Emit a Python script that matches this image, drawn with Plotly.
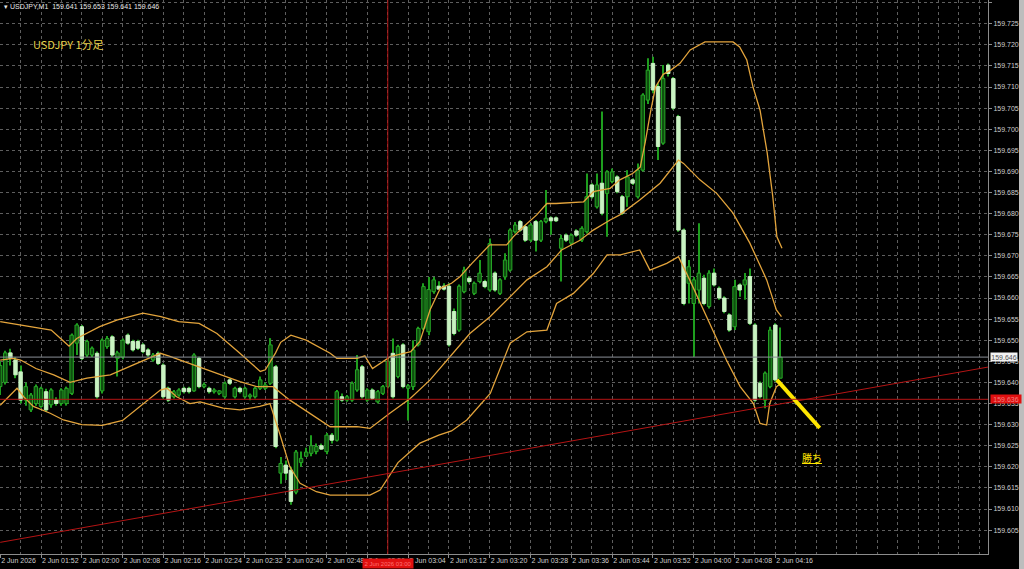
import pandas as pd
import plotly.graph_objects as go

# ---------------- data ----------------
start = pd.Timestamp("2026-06-02 01:44")
n_bars = 154
bar_times = [start + pd.Timedelta(minutes=i) for i in range(n_bars)]

opens = [159.6390,159.6400,159.6470,159.6453,159.6425,159.6358,159.6335,159.6350,159.6343,159.6378,
159.6347,159.6358,159.6350,159.6350,159.6374,159.6493,159.6532,159.6465,159.6465,159.6469,
159.6380,159.6485,159.6508,159.6457,159.6460,159.6512,159.6497,159.6497,159.6489,159.6477,
159.6453,159.6469,159.6441,159.6386,159.6366,159.6370,159.6386,159.6386,159.6380,159.6457,
159.6390,159.6386,159.6378,159.6374,159.6366,159.6406,159.6366,159.6386,159.6366,159.6366,
159.6366,159.6386,159.6386,159.6398,159.6437,159.6185,159.6204,159.6192,159.6140,159.6210,
159.6225,159.6232,159.6236,159.6250,159.6236,159.6275,159.6263,159.6366,159.6358,159.6358,
159.6382,159.6437,159.6358,159.6382,159.6354,159.6374,159.6390,159.6469,159.6414,159.6489,
159.6386,159.6390,159.6489,159.6528,159.6520,159.6615,159.6628,159.6628,159.6628,159.6568,
159.6524,159.6615,159.6647,159.6611,159.6639,159.6639,159.6619,159.6659,159.6611,159.6650,
159.6666,159.6757,159.6781,159.6769,159.6737,159.6781,159.6737,159.6781,159.6790,159.6790,
159.6718,159.6749,159.6730,159.6759,159.6737,159.6757,159.6868,159.6816,159.6872,159.6848,
159.6876,159.6887,159.6840,159.6840,159.6880,159.6840,159.6903,159.7069,159.7156,159.7101,
159.6967,159.7152,159.7120,159.7030,159.6761,159.6635,159.6587,159.6619,159.6647,159.6580,
159.6659,159.6623,159.6600,159.6560,159.6532,159.6631,159.6631,159.6651,159.6536,159.6398,
159.6358,159.6390,159.6536,159.6410]

highs = [159.6450,159.6475,159.6480,159.6460,159.6440,159.6400,159.6375,159.6395,159.6390,159.6385,
159.6386,159.6365,159.6386,159.6390,159.6516,159.6540,159.6536,159.6501,159.6485,159.6473,
159.6504,159.6510,159.6512,159.6475,159.6504,159.6516,159.6501,159.6501,159.6493,159.6481,
159.6470,159.6473,159.6445,159.6390,159.6382,159.6386,159.6390,159.6390,159.6469,159.6461,
159.6400,159.6390,159.6386,159.6382,159.6402,159.6410,159.6390,159.6390,159.6390,159.6374,
159.6390,159.6414,159.6400,159.6505,159.6441,159.6223,159.6215,159.6200,159.6240,159.6236,
159.6245,159.6275,159.6255,159.6255,159.6280,159.6280,159.6382,159.6374,159.6370,159.6402,
159.6465,159.6441,159.6386,159.6386,159.6382,159.6394,159.6460,159.6504,159.6489,159.6493,
159.6396,159.6500,159.6532,159.6635,159.6650,159.6650,159.6640,159.6635,159.6635,159.6575,
159.6632,159.6674,159.6651,159.6639,159.6690,159.6643,159.6741,159.6663,159.6647,159.6706,
159.6765,159.6780,159.6785,159.6773,159.6777,159.6785,159.6785,159.6856,159.6793,159.6793,
159.6750,159.6753,159.6753,159.6763,159.6770,159.6895,159.6872,159.6895,159.7042,159.6903,
159.6907,159.6891,159.6844,159.6903,159.6884,159.6919,159.7085,159.7168,159.7172,159.7109,
159.7152,159.7156,159.7124,159.7034,159.6765,159.6690,159.6650,159.6777,159.6655,159.6666,
159.6670,159.6627,159.6604,159.6564,159.6643,159.6635,159.6659,159.6670,159.6540,159.6402,
159.6426,159.6532,159.6540,159.6530]

lows = [159.6370,159.6395,159.6440,159.6410,159.6350,159.6345,159.6330,159.6345,159.6340,159.6330,
159.6340,159.6345,159.6345,159.6345,159.6370,159.6465,159.6453,159.6460,159.6460,159.6362,
159.6374,159.6480,159.6460,159.6414,159.6455,159.6489,159.6473,159.6477,159.6469,159.6461,
159.6449,159.6441,159.6362,159.6354,159.6362,159.6366,159.6374,159.6374,159.6378,159.6386,
159.6386,159.6374,159.6374,159.6370,159.6362,159.6394,159.6362,159.6374,159.6362,159.6358,
159.6362,159.6382,159.6382,159.6394,159.6244,159.6160,159.6169,159.6110,159.6135,159.6200,
159.6224,159.6225,159.6230,159.6240,159.6230,159.6255,159.6260,159.6354,159.6354,159.6354,
159.6378,159.6362,159.6354,159.6358,159.6350,159.6370,159.6386,159.6362,159.6410,159.6386,
159.6310,159.6382,159.6485,159.6524,159.6512,159.6610,159.6620,159.6618,159.6485,159.6512,
159.6520,159.6611,159.6635,159.6607,159.6635,159.6623,159.6615,159.6615,159.6607,159.6643,
159.6662,159.6753,159.6757,159.6733,159.6733,159.6710,159.6733,159.6777,159.6750,159.6780,
159.6639,159.6733,159.6725,159.6745,159.6733,159.6753,159.6836,159.6812,159.6796,159.6745,
159.6872,159.6848,159.6797,159.6816,159.6868,159.6836,159.6900,159.7060,159.7085,159.6927,
159.6963,159.7125,159.7046,159.6757,159.6583,159.6587,159.6461,159.6587,159.6583,159.6575,
159.6627,159.6596,159.6564,159.6520,159.6524,159.6603,159.6596,159.6536,159.6354,159.6362,
159.6339,159.6386,159.6402,159.6410]

closes = [159.6440,159.6470,159.6457,159.6418,159.6358,159.6390,159.6370,159.6390,159.6386,159.6335,
159.6382,159.6350,159.6382,159.6386,159.6512,159.6536,159.6457,159.6497,159.6481,159.6366,
159.6500,159.6504,159.6465,159.6470,159.6500,159.6493,159.6477,159.6481,159.6473,159.6465,
159.6465,159.6445,159.6366,159.6358,159.6378,159.6382,159.6378,159.6378,159.6465,159.6390,
159.6395,159.6378,159.6382,159.6380,159.6398,159.6398,159.6386,159.6378,159.6386,159.6370,
159.6386,159.6406,159.6394,159.6489,159.6248,159.6208,159.6185,159.6118,159.6235,159.6220,
159.6235,159.6250,159.6248,159.6242,159.6275,159.6263,159.6378,159.6358,159.6366,159.6398,
159.6430,159.6366,159.6382,159.6362,159.6378,159.6390,159.6450,159.6366,159.6485,159.6390,
159.6392,159.6477,159.6528,159.6627,159.6620,159.6643,159.6621,159.6621,159.6489,159.6516,
159.6628,159.6666,159.6639,159.6635,159.6659,159.6627,159.6729,159.6619,159.6643,159.6690,
159.6761,159.6773,159.6761,159.6737,159.6773,159.6737,159.6781,159.6789,159.6783,159.6783,
159.6741,159.6737,159.6749,159.6749,159.6765,159.6840,159.6840,159.6868,159.6801,159.6899,
159.6899,159.6852,159.6801,159.6887,159.6872,159.6903,159.7081,159.7140,159.7093,159.6959,
159.7120,159.7132,159.7050,159.6761,159.6587,159.6674,159.6643,159.6659,159.6587,159.6659,
159.6631,159.6600,159.6568,159.6524,159.6627,159.6619,159.6643,159.6540,159.6358,159.6366,
159.6422,159.6524,159.6406,159.6460]

# Bollinger band lines (minute offset from 01:44, price)
upper_min = [0,6,10,12.5,13.5,15,19.5,23,28,31.5,35,39,42.5,47,51,52,54,55,57,60,
             64.7,66,70,71.5,73,76.5,80.5,82.3,84.3,86.3,88.5,90.2,92.5,96,99.3,100.6,102.6,105.2,107.2,109,
             114.4,116.3,119.6,121.5,124,125.5,126.5,127.5,128.5,130,131.5,133.3,135.3,138.2,143.7,145,146.4,147.6,149,150.4,
             151.5,152.3,153.3]
upper_band = [159.6544,159.6532,159.6524,159.6497,159.6486,159.6504,159.6532,159.6548,159.6564,159.6556,
              159.6544,159.6540,159.6516,159.6469,159.6426,159.6430,159.6470,159.6495,159.6512,159.6500,
              159.6469,159.6457,159.6457,159.6463,159.6433,159.6461,159.6473,159.6497,159.6572,159.6623,
              159.6635,159.6651,159.6682,159.6726,159.6726,159.6745,159.6769,159.6797,159.6824,159.6824,
              159.6828,159.6852,159.6860,159.6880,159.6895,159.6910,159.6970,159.7040,159.7100,159.7130,
              159.7140,159.7156,159.7188,159.7207,159.7207,159.7195,159.7164,159.7101,159.7045,159.6944,
              159.6840,159.6745,159.6718]

middle_min = [0,2.6,4,7,10.5,13.7,17,21.6,26,31.4,33,37.2,41,47,50.3,53.5,56.8,60.7,64.7,70,
              72.5,76.4,80.4,84.3,88.2,92.1,96.1,100.6,103.3,107.2,110.1,113.7,116.3,119.6,121.5,125.4,129.4,133,134,137.2,
              140.5,143.7,147,150.3,152.2,153.2]
middle_band = [159.6453,159.6457,159.6453,159.6433,159.6418,159.6400,159.6410,159.6418,159.6441,159.6469,
               159.6463,159.6445,159.6429,159.6402,159.6390,159.6390,159.6358,159.6327,159.6295,159.6295,
               159.6291,159.6327,159.6362,159.6406,159.6461,159.6516,159.6556,159.6611,159.6643,159.6674,
               159.6714,159.6737,159.6761,159.6785,159.6797,159.6832,159.6872,159.6927,159.6919,159.6880,
               159.6848,159.6801,159.6730,159.6643,159.6572,159.6556]

lower_min = [0,3.3,4.6,6.5,9.8,12.4,16,20,24,28,31.4,32.7,34.6,37.2,39.2,43.7,47,50.9,52.9,54.8,
             56.8,58.8,62,64.7,72.5,74.5,76.4,78,82.3,86,88.5,91.5,96.1,100,103.3,107.2,109.1,112.4,116.3,119,
             121.6,122.8,125.4,127.4,130.7,133,135.2,138.5,142.4,145.1,147.7,149,150.3,150.9,152.2,153.2]
lower_band = [159.6346,159.6386,159.6366,159.6343,159.6327,159.6311,159.6300,159.6298,159.6310,159.6350,
              159.6382,159.6386,159.6366,159.6350,159.6354,159.6339,159.6335,159.6343,159.6350,159.6279,
              159.6200,159.6161,159.6141,159.6133,159.6133,159.6145,159.6180,159.6210,159.6256,159.6275,
              159.6285,159.6311,159.6374,159.6493,159.6520,159.6524,159.6587,159.6611,159.6658,159.6702,
              159.6702,159.6706,159.6714,159.6666,159.6682,159.6698,159.6643,159.6556,159.6453,159.6390,
              159.6350,159.6303,159.6299,159.6350,159.6390,159.6398]

# drawn objects
trend_min = [0, 194]
trend_price = [159.6021, 159.6437]
hline_red_price = 159.636
bid_price = 159.646
vline_time = "2026-06-02 03:00"
stroke_min = [152.3, 160.7]
stroke_price = [159.6406, 159.6292]
note_min = 159.2
note_price = 159.6223

x_label_times = ["2026-06-02 01:44","2026-06-02 01:52","2026-06-02 02:00","2026-06-02 02:08","2026-06-02 02:16",
                 "2026-06-02 02:24","2026-06-02 02:32","2026-06-02 02:40","2026-06-02 02:48","2026-06-02 02:56",
                 "2026-06-02 03:04","2026-06-02 03:12","2026-06-02 03:20","2026-06-02 03:28","2026-06-02 03:36",
                 "2026-06-02 03:44","2026-06-02 03:52","2026-06-02 04:00","2026-06-02 04:08","2026-06-02 04:16"]
x_labels = ["2 Jun 2026","2 Jun 01:52","2 Jun 02:00","2 Jun 02:08","2 Jun 02:16","2 Jun 02:24","2 Jun 02:32",
            "2 Jun 02:40","2 Jun 02:48","2 Jun 02:56","2 Jun 03:04","2 Jun 03:12","2 Jun 03:20","2 Jun 03:28",
            "2 Jun 03:36","2 Jun 03:44","2 Jun 03:52","2 Jun 04:00","2 Jun 04:08","2 Jun 04:16"]
grid_minutes = list(range(0, 196, 4))
y_ticks = [159.605,159.610,159.615,159.620,159.625,159.630,159.635,159.640,159.645,159.650,159.655,
           159.660,159.665,159.670,159.675,159.680,159.685,159.690,159.695,159.700,159.705,159.710,
           159.715,159.720,159.725,159.730]

# ---------------- style ----------------
BG = "#000000"
GRID = "#5e5e5e"
AXIS = "#8c8c8c"
TXT = "#cfcfcf"
WICK = "#1e9e1e"
BULL_FILL = "#0f4f0f"
BULL_LINE = "#27a827"
BEAR_FILL = "#c9f3c2"
BAND = "#e3a43c"
RED = "#b41414"
FONT = "Liberation Sans"

def tm(m):
    return start + pd.Timedelta(minutes=m)

fig = go.Figure()

# wicks
fig.add_bar(x=bar_times, y=[h - l for h, l in zip(highs, lows)], base=lows,
            width=13000, marker=dict(color=WICK, line=dict(width=0)), hoverinfo="skip")
# bodies
body_base = [min(o, c) for o, c in zip(opens, closes)]
body_h = [max(abs(c - o), 0.00025) for o, c in zip(opens, closes)]
fills = [BULL_FILL if c >= o else BEAR_FILL for o, c in zip(opens, closes)]
lines = [BULL_LINE if c >= o else BEAR_FILL for o, c in zip(opens, closes)]
fig.add_bar(x=bar_times, y=body_h, base=body_base, width=40000,
            marker=dict(color=fills, line=dict(color=lines, width=1)), hoverinfo="skip")

# bands
for mins, vals in [(upper_min, upper_band), (middle_min, middle_band), (lower_min, lower_band)]:
    fig.add_scatter(x=[tm(m) for m in mins], y=vals, mode="lines",
                    line=dict(color=BAND, width=1.3), hoverinfo="skip")

# trend line
fig.add_scatter(x=[tm(m) for m in trend_min], y=trend_price, mode="lines",
                line=dict(color=RED, width=1), hoverinfo="skip")
# yellow stroke
fig.add_scatter(x=[tm(m) for m in stroke_min], y=stroke_price, mode="lines",
                line=dict(color="#ffe600", width=4), hoverinfo="skip")

# horizontal / vertical lines
fig.add_shape(type="line", xref="paper", x0=0, x1=1, yref="y", y0=bid_price, y1=bid_price,
              line=dict(color="#8a8f98", width=1))
fig.add_shape(type="line", xref="paper", x0=0, x1=1, yref="y", y0=hline_red_price, y1=hline_red_price,
              line=dict(color=RED, width=1))
fig.add_shape(type="line", xref="x", x0=vline_time, x1=vline_time, yref="paper", y0=0, y1=1,
              line=dict(color=RED, width=1))

# window edge
fig.add_shape(type="rect", xref="paper", yref="paper", x0=1019/988, x1=1.05, y0=-0.05, y1=1.0,
              fillcolor="#bdbdbd", line=dict(width=0), layer="above")

annotations = [
    dict(xref="paper", yref="paper", x=0.002, y=0.989, xanchor="left", yanchor="middle", showarrow=False,
         text="▾ USDJPY,M1  159.641 159.653 159.641 159.646",
         font=dict(family=FONT, size=7, color="#e6e6e6")),
    dict(xref="paper", yref="paper", x=31/988, y=1 - 44/554, xanchor="left", yanchor="middle", showarrow=False,
         text="USDJPY 1分足", font=dict(family="Noto Sans CJK JP", size=11, color="#e8d24a")),
    dict(xref="x", yref="y", x=tm(note_min), y=note_price, xanchor="center", yanchor="middle", showarrow=False,
         text="<u>勝ち</u>", font=dict(family="Noto Sans CJK JP", size=10, color="#ffe600")),
    dict(xref="paper", yref="y", x=990/988, y=bid_price, xanchor="left", yanchor="middle", showarrow=False,
         text="159.646", bgcolor="#f2f2f2", borderpad=0, width=26, height=8,
         font=dict(family=FONT, size=7, color="#505050")),
    dict(xref="paper", yref="y", x=990/988, y=hline_red_price, xanchor="left", yanchor="middle", showarrow=False,
         text="159.636", bgcolor="#e01010", borderpad=0, width=30, height=8,
         font=dict(family=FONT, size=7, color="#f08080")),
    dict(xref="x", yref="paper", x=vline_time, y=-9/554, xanchor="center", yanchor="middle", showarrow=False,
         text="2 Jun 2026 03:00", bgcolor="#e01010", borderpad=0, width=50, height=9,
         font=dict(family=FONT, size=6, color="#ff7070")),
]

fig.update_layout(
    width=1024, height=569, margin=dict(l=0, r=36, t=0, b=15, autoexpand=False),
    paper_bgcolor=BG, plot_bgcolor=BG, showlegend=False, barmode="overlay",
    annotations=annotations, hovermode=False,
    xaxis=dict(type="date", range=[tm(-0.04), tm(193.7)], automargin=False,
               tickmode="array", tickvals=x_label_times, ticktext=x_labels, tickangle=0,
               ticks="outside", ticklen=3, tickcolor=AXIS, ticklabelposition="outside right",
               tickfont=dict(family=FONT, size=7, color=TXT),
               showgrid=False, zeroline=False, showline=True, linecolor=AXIS, linewidth=1,
               minor=dict(tickmode="array", tickvals=[tm(m) for m in grid_minutes], showgrid=True,
                          gridcolor=GRID, griddash="dot", gridwidth=1, ticks=""),
               fixedrange=True),
    yaxis=dict(side="right", range=[159.59934, 159.73062], tickmode="array", tickvals=y_ticks,
               tickformat=".3f", ticks="outside", ticklen=3, tickcolor=AXIS, automargin=False,
               tickfont=dict(family=FONT, size=7, color=TXT),
               showgrid=True, gridcolor=GRID, griddash="dot", gridwidth=1,
               zeroline=False, showline=True, linecolor=AXIS, linewidth=1, fixedrange=True),
)

fig.write_html("out.html", config={"displayModeBar": False},
               post_script="document.body.style.margin='0px';document.body.style.overflow='hidden';")
